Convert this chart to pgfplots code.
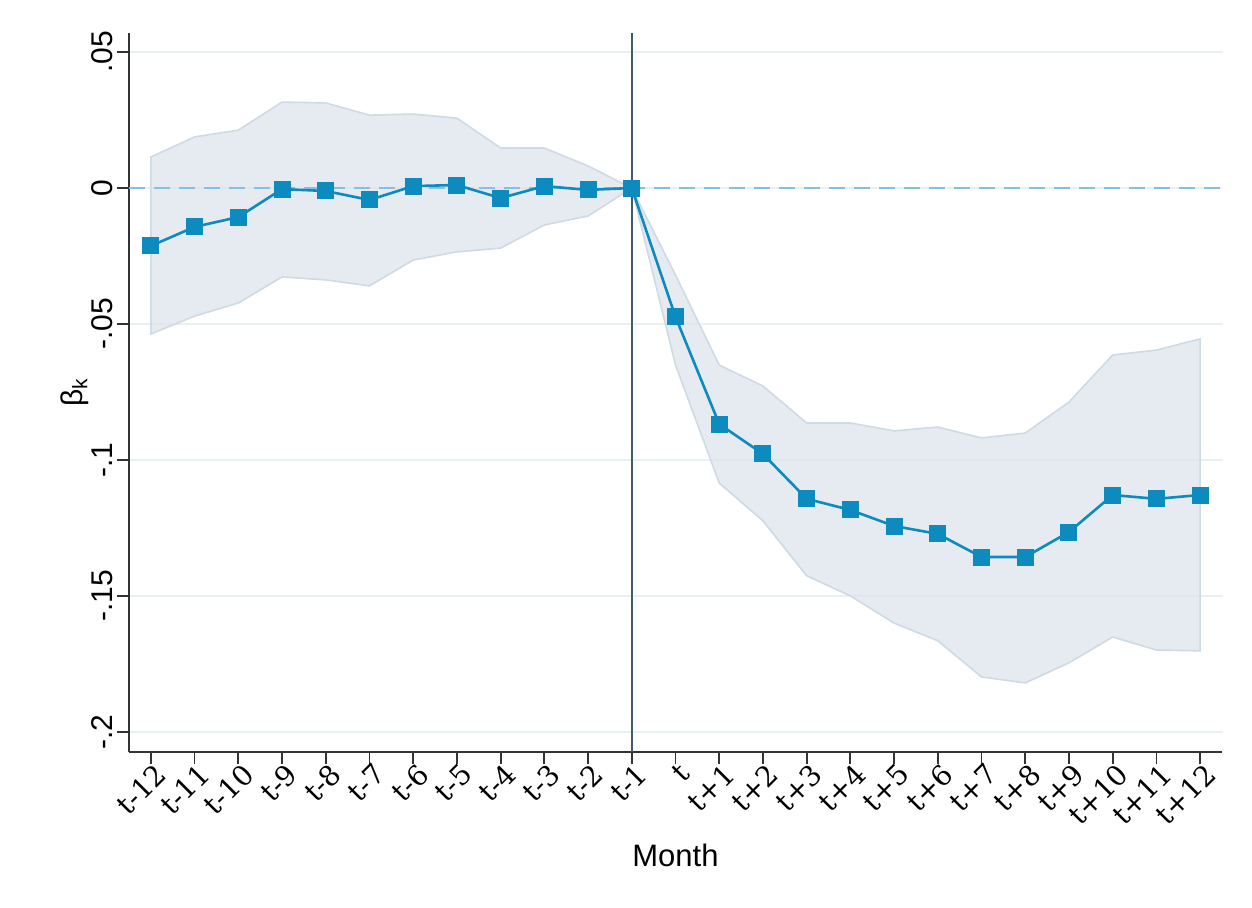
\documentclass[border=0pt]{standalone}
\usepackage{pgfplots}
\pgfplotsset{compat=1.18}
\usepackage{fontspec}
\setmainfont{Liberation Sans}
\newfontfamily\tickserif{DejaVu Serif}
\definecolor{linec}{HTML}{0E8BBE}
\definecolor{areac}{HTML}{DCE4EB}
\definecolor{areaedge}{HTML}{CFDAE4}
\definecolor{gridc}{HTML}{E8F0F3}
\definecolor{zeroc}{HTML}{86BFE4}
\definecolor{vlinec}{HTML}{3E5A70}
\definecolor{axc}{HTML}{333333}
\begin{document}
\begin{tikzpicture}
\useasboundingbox (-64.5pt,-77.5pt) rectangle (561.5pt,376pt);
\begin{axis}[
  scale only axis,
  width=546.5pt, height=359.5pt,
  xmin=-0.5, xmax=24.5,
  ymin=-0.2074, ymax=0.057,
  axis x line*=bottom, axis y line*=left,
  axis line style={axc, line width=0.9pt},
  every tick/.style={axc, line width=0.9pt},
  tick align=outside,
  major tick length=6pt,
  xtick={0,...,24},
  xticklabels={t-12,t-11,t-10,t-9,t-8,t-7,t-6,t-5,t-4,t-3,t-2,t-1,t,t+1,t+2,t+3,t+4,t+5,t+6,t+7,t+8,t+9,t+10,t+11,t+12},
  xticklabel style={rotate=45, anchor=north east, font=\tickserif\fontsize{14}{16}\selectfont, inner sep=1pt, xshift=3pt, yshift=1pt},
  ytick={-0.2,-0.15,-0.1,-0.05,0,0.05},
  yticklabels={-.2,-.15,-.1,-.05,0,.05},
  yticklabel style={rotate=90, anchor=south, font=\fontsize{15}{16}\selectfont, inner sep=2pt},
  ymajorgrids,
  y grid style={gridc, line width=1pt},
  xlabel={Month},
  ylabel={β\textsubscript{k}},
  xlabel style={font=\fontsize{15.5}{17}\selectfont, yshift=-4pt},
  ylabel style={font=\fontsize{15}{17}\selectfont, yshift=-4pt},
  clip=false,
]
% confidence band (upper, then lower reversed)
\addplot[fill=areac, fill opacity=0.75, draw=areaedge, line width=0.8pt] coordinates {
(0,0.0114) (1,0.0188) (2,0.0213) (3,0.0316) (4,0.0313) (5,0.0268) (6,0.0272) (7,0.0257) (8,0.0147) (9,0.0147) (10,0.0081) (11,0)
(12,-0.032) (13,-0.0651) (14,-0.0728) (15,-0.0864) (16,-0.0864) (17,-0.0893) (18,-0.0879) (19,-0.0919) (20,-0.0901) (21,-0.0787) (22,-0.0614) (23,-0.0596) (24,-0.0555)
(24,-0.1702) (23,-0.1699) (22,-0.1651) (21,-0.1746) (20,-0.182) (19,-0.1798) (18,-0.1665) (17,-0.16) (16,-0.15) (15,-0.1426) (14,-0.1224) (13,-0.1085) (12,-0.0651)
(11,0) (10,-0.0103) (9,-0.0136) (8,-0.0221) (7,-0.0235) (6,-0.0265) (5,-0.036) (4,-0.0338) (3,-0.0327) (2,-0.0423) (1,-0.0471) (0,-0.0537)
} -- cycle;
% zero reference line
\addplot[zeroc, line width=1.3pt, dash pattern=on 8pt off 4.5pt] coordinates {(-0.5,0) (24.5,0)};
% vertical line at t-1
\addplot[vlinec, line width=1pt] coordinates {(11,-0.2074) (11,0.057)};
% point estimates
\addplot[linec, line width=1.3pt, mark=square*, mark size=4pt, mark options={fill=linec, draw=linec, line width=0pt}] coordinates {
(0,-0.0213) (1,-0.0143) (2,-0.0107) (3,-0.0004) (4,-0.0011) (5,-0.0044) (6,0.0007) (7,0.0011) (8,-0.0037) (9,0.0007) (10,-0.0007) (11,0)
(12,-0.0474) (13,-0.0868) (14,-0.0978) (15,-0.1143) (16,-0.1184) (17,-0.1243) (18,-0.1272) (19,-0.1357) (20,-0.1357) (21,-0.1265) (22,-0.1129) (23,-0.1143) (24,-0.1129)
};
\end{axis}
\end{tikzpicture}
\end{document}
